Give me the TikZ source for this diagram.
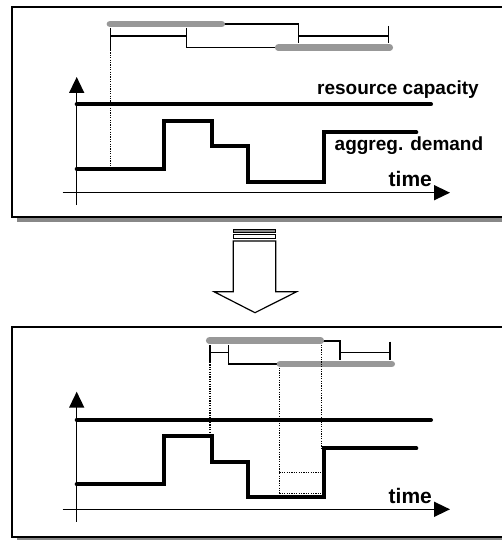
\documentclass[tikz,border=0pt]{standalone}
\usepackage{fontspec}
\setmainfont{Liberation Sans}
\usetikzlibrary{arrows.meta}
\definecolor{bargray}{RGB}{152,152,152}
\definecolor{shadowgray}{RGB}{136,136,136}
\tikzset{
  panel/.style={draw=black,line width=2pt,fill=white},
  panelshadow/.style={fill=shadowgray},
  bar/.style={draw=bargray,line width=6.7pt,line cap=round},
  link/.style={draw=black,line width=1.3pt},
  guide/.style={draw=black,line width=1.3pt,dash pattern=on 1.2pt off 1.2pt},
  axis/.style={draw=black,line width=1.5pt,-{Triangle[length=16pt,width=15pt]}},
  curve/.style={draw=black,line width=4pt,line cap=round,line join=miter},
  lbl/.style={inner sep=0pt,anchor=base west,font=\fontsize{19}{22}\selectfont\bfseries},
  timelbl/.style={inner sep=0pt,anchor=base west,font=\fontsize{21}{24}\selectfont\bfseries},
  bigarrow/.style={draw=black,line width=1.2pt,fill=white}
}
\begin{document}
\begin{tikzpicture}[x=1pt,y=-1pt]
\useasboundingbox (0,0) rectangle (502,540);
% ---------- top panel ----------
\fill[panelshadow] (16.7,11.7) rectangle (520,221.7);
\draw[panel] (11.7,6.7) rectangle (515,216.7);
% gantt
\draw[link] (110.7,28) -- (110.7,50);
\draw[link] (110.7,36) -- (186.7,36);
\draw[link] (186.7,28) -- (186.7,47.7) -- (280,47.7);
\draw[link] (221,24) -- (298.3,24) -- (298.3,43.3);
\draw[link] (298.3,36) -- (388.3,36);
\draw[link] (388.3,26) -- (388.3,43.3);
\draw[bar] (110,24) -- (221.7,24);
\draw[bar] (278.3,47.7) -- (389.7,47.7);
\draw[guide] (110.7,50) -- (110.7,167);
% axes
\coordinate (ya1) at (76.7,205);
\coordinate (yt1) at (76.7,77);
\coordinate (xa1) at (62.7,192.7);
\coordinate (xt1) at (450,192.7);
\draw[axis] (ya1) -- (yt1);
\draw[axis] (xa1) -- (xt1);
\draw[curve] (76.7,104.3) -- (431,104.3);
\draw[curve] (76.7,169) -- (164.3,169) -- (164.3,120.7) -- (211.7,120.7) -- (211.7,145.7) -- (247.7,145.7) -- (247.7,181.7) -- (324.3,181.7) -- (324.3,132.3) -- (416.3,132.3);
\node[lbl] (cap) at (317,94.5) {resource capacity};
\node[lbl] (dem) at (334.5,150.5) {aggreg. demand};
\node[timelbl] (time1) at (388.5,186.7) {time};
% ---------- middle arrow ----------
\draw[draw=black,line width=1pt,fill=shadowgray] (233.3,229.5) rectangle (275.7,232.5);
\draw[draw=black,line width=1pt,fill=white] (233.3,234.8) rectangle (275.7,238.5);
\draw[bigarrow] (233.3,241) -- (233.3,291.7) -- (214,291.7) -- (255,312.7) -- (296.7,291.7) -- (275.7,291.7) -- (275.7,241) -- cycle;
% ---------- bottom panel ----------
\fill[panelshadow] (16.7,331.7) rectangle (520,541.7);
\draw[panel] (11.7,326.7) rectangle (515,536.7);
\draw[link] (210,345) -- (210,362);
\draw[link] (210,352.3) -- (228.3,352.3);
\draw[link] (228.3,345) -- (228.3,364) -- (281,364);
\draw[link] (319,341) -- (340,341) -- (340,360);
\draw[link] (340,352.3) -- (390,352.3);
\draw[link] (390,341.7) -- (390,360);
\draw[bar] (209.3,340.7) -- (320.7,340.7);
\draw[bar] (280,364) -- (391.7,364);
\draw[guide] (210,362) -- (210,435.7);
\draw[guide] (279.3,367.5) -- (279.3,493.3);
\draw[guide] (321.7,344.5) -- (321.7,448.3);
\draw[guide] (279.3,472.3) -- (321.7,472.3);
\draw[guide] (279.3,493.3) -- (321.7,493.3);
\coordinate (ya2) at (76.7,521.7);
\coordinate (yt2) at (76.7,391.7);
\coordinate (xa2) at (62.7,509.3);
\coordinate (xt2) at (450,509.3);
\draw[axis] (ya2) -- (yt2);
\draw[axis] (xa2) -- (xt2);
\draw[curve] (76.7,420) -- (431,420);
\draw[curve] (76.7,484.3) -- (164.3,484.3) -- (164.3,435.7) -- (211.7,435.7) -- (211.7,461.7) -- (247.7,461.7) -- (247.7,496.7) -- (324.3,496.7) -- (324.3,448.3) -- (416.3,448.3);
\node[timelbl] (time2) at (388.5,503.3) {time};
\end{tikzpicture}
\end{document}
